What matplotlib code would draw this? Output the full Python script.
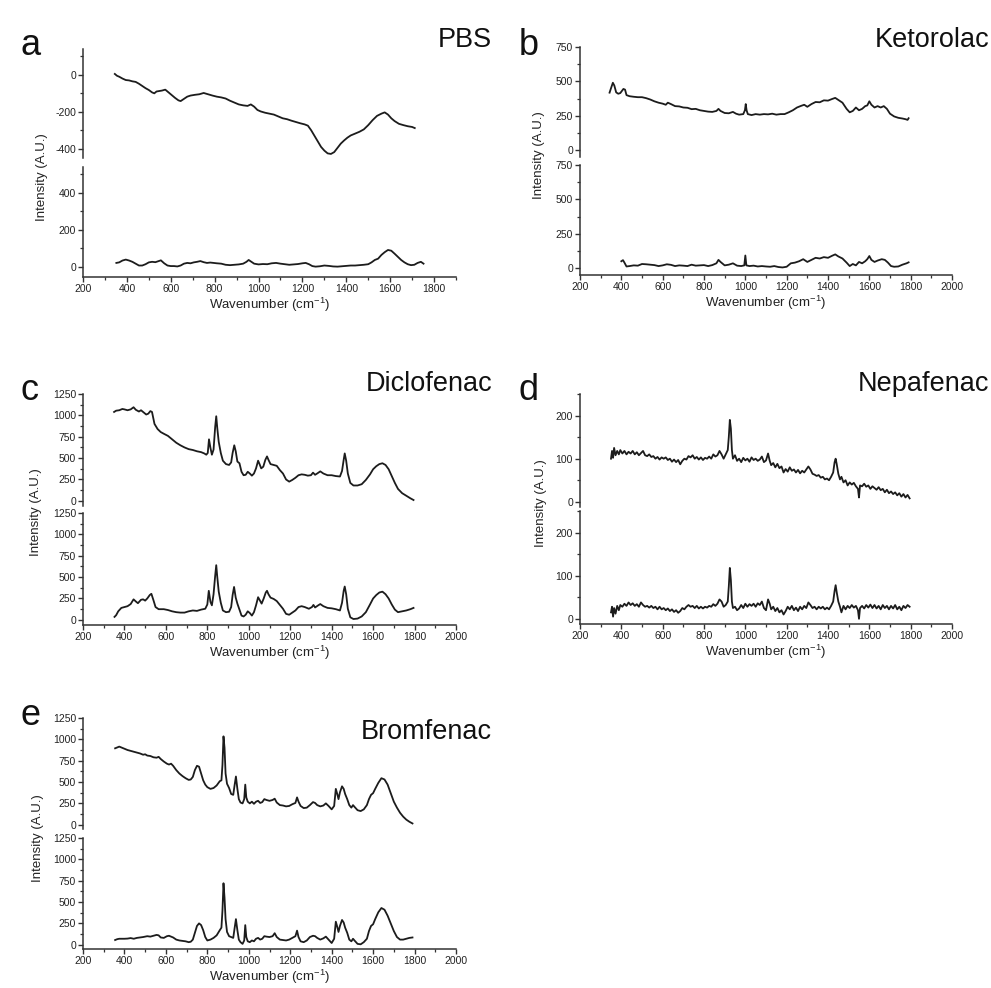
import matplotlib
matplotlib.use("Agg")
import matplotlib.pyplot as plt
from matplotlib.ticker import MultipleLocator

plt.rcParams['font.family'] = ['Liberation Sans', 'DejaVu Sans']
plt.rcParams['mathtext.default'] = 'regular'
plt.rcParams['axes.unicode_minus'] = False

# ---------------- data ----------------
pbs_top_x = [345, 355, 365, 380, 395, 410, 425, 440, 455, 470, 485, 500, 515, 525, 535, 545, 560, 575, 590, 605, 620, 635, 645, 660, 675, 690, 710, 730, 750, 770, 790, 810, 830, 850, 870, 890, 910, 930, 950, 965, 980, 995, 1010, 1030, 1050, 1070, 1090, 1110, 1130, 1150, 1170, 1190, 1210, 1225, 1240, 1255, 1270, 1285, 1300, 1315, 1330, 1345, 1360, 1375, 1390, 1405, 1420, 1440, 1460, 1480, 1500, 1520, 1540, 1560, 1575, 1590, 1605, 1620, 1640, 1660, 1680, 1700, 1712]
pbs_top_y = [5, -5, -10, -20, -28, -30, -35, -38, -48, -60, -72, -82, -95, -100, -90, -88, -85, -80, -95, -110, -125, -138, -142, -130, -118, -112, -108, -105, -98, -105, -112, -118, -122, -128, -140, -150, -160, -165, -168, -160, -172, -190, -198, -205, -210, -215, -225, -235, -240, -248, -255, -262, -268, -275, -300, -330, -360, -390, -410, -425, -428, -418, -395, -372, -355, -340, -328, -318, -308, -295, -272, -245, -222, -210, -203, -215, -235, -250, -265, -272, -278, -282, -288]
pbs_bot_x = [352, 365, 380, 395, 410, 425, 440, 455, 470, 485, 500, 515, 530, 545, 555, 570, 585, 600, 615, 630, 645, 660, 675, 690, 705, 720, 735, 750, 765, 780, 795, 810, 830, 850, 870, 890, 910, 930, 945, 955, 965, 980, 1000, 1020, 1040, 1060, 1080, 1100, 1120, 1140, 1160, 1180, 1200, 1215, 1230, 1245, 1260, 1280, 1300, 1320, 1340, 1360, 1380, 1400, 1420, 1440, 1460, 1480, 1500, 1515, 1530, 1545, 1560, 1575, 1590, 1605, 1620, 1635, 1650, 1665, 1680, 1695, 1710, 1725, 1740, 1752]
pbs_bot_y = [22, 25, 35, 40, 35, 28, 18, 8, 8, 15, 25, 28, 26, 32, 36, 20, 8, 5, 5, 3, 8, 18, 22, 20, 25, 28, 32, 26, 22, 24, 22, 20, 18, 12, 10, 12, 14, 18, 28, 38, 30, 18, 14, 16, 15, 20, 22, 18, 15, 12, 14, 16, 20, 22, 15, 5, 2, 4, 8, 6, 3, 2, 4, 6, 8, 8, 10, 12, 15, 25, 38, 45, 65, 80, 92, 88, 72, 55, 38, 25, 15, 10, 12, 22, 28, 18]

ket_top_x = [343, 350, 359, 366, 375, 385, 395, 410, 418, 425, 440, 460, 480, 500, 520, 540, 560, 580, 600, 615, 625, 640, 660, 680, 700, 720, 740, 760, 780, 800, 820, 840, 860, 870, 880, 900, 920, 940, 955, 970, 990, 998, 1002, 1006, 1012, 1030, 1050, 1070, 1090, 1110, 1130, 1150, 1170, 1190, 1210, 1230, 1250, 1270, 1285, 1300, 1320, 1340, 1360, 1380, 1400, 1420, 1435, 1450, 1470, 1490, 1505, 1520, 1535, 1550, 1565, 1580, 1590, 1600, 1610, 1625, 1640, 1655, 1670, 1685, 1700, 1720, 1740, 1760, 1775, 1785, 1790]
ket_top_y = [418, 450, 490, 470, 420, 410, 415, 445, 440, 400, 392, 388, 385, 385, 378, 368, 355, 345, 338, 330, 345, 335, 320, 318, 310, 308, 298, 300, 290, 285, 280, 278, 285, 300, 285, 270, 268, 278, 265, 258, 262, 290, 335, 290, 262, 255, 262, 258, 262, 260, 265, 258, 262, 262, 275, 290, 310, 322, 330, 315, 335, 350, 348, 362, 360, 372, 380, 365, 345, 300, 275, 285, 310, 290, 300, 320, 325, 355, 330, 310, 320, 310, 320, 300, 265, 245, 235, 230, 225, 220, 232]
ket_bot_x = [400, 408, 415, 425, 440, 460, 480, 500, 520, 540, 560, 580, 600, 620, 640, 660, 680, 700, 720, 740, 760, 780, 800, 820, 840, 860, 870, 880, 900, 920, 940, 960, 980, 995, 1000, 1005, 1020, 1040, 1060, 1080, 1100, 1120, 1140, 1160, 1180, 1200, 1220, 1240, 1260, 1280, 1300, 1320, 1340, 1360, 1380, 1400, 1420, 1435, 1450, 1470, 1490, 1505, 1520, 1535, 1550, 1565, 1580, 1590, 1600, 1610, 1625, 1640, 1660, 1675, 1690, 1705, 1720, 1740, 1760, 1780, 1790]
ket_bot_y = [50, 58, 40, 12, 15, 20, 18, 30, 28, 25, 22, 15, 20, 28, 24, 15, 20, 18, 15, 25, 18, 20, 22, 15, 22, 35, 60, 45, 20, 25, 35, 18, 15, 20, 92, 20, 15, 18, 12, 15, 12, 10, 15, 8, 5, 10, 35, 40, 50, 65, 45, 60, 75, 70, 80, 75, 90, 100, 85, 70, 40, 15, 30, 20, 45, 35, 50, 65, 88, 60, 45, 55, 65, 60, 40, 15, 10, 12, 25, 35, 42]

dic_top_x = [350, 360, 375, 390, 400, 415, 430, 444, 455, 470, 480, 490, 505, 515, 525, 533, 545, 560, 575, 590, 610, 630, 650, 670, 690, 710, 730, 750, 770, 785, 795, 802, 808, 815, 822, 830, 838, 843, 848, 855, 865, 875, 890, 905, 915, 922, 930, 937, 945, 955, 965, 975, 985, 995, 1005, 1015, 1025, 1035, 1045, 1052, 1060, 1070, 1080, 1088, 1095, 1105, 1120, 1135, 1150, 1165, 1180, 1195, 1210, 1225, 1240, 1255, 1270, 1285, 1300, 1310, 1320, 1330, 1345, 1360, 1380, 1400, 1420, 1440, 1450, 1458, 1463, 1470, 1478, 1490, 1505, 1525, 1545, 1565, 1585, 1600, 1615, 1630, 1645, 1660, 1675, 1690, 1705, 1720, 1740, 1760, 1780, 1795]
dic_top_y = [1040, 1055, 1060, 1075, 1070, 1060, 1070, 1095, 1065, 1045, 1060, 1040, 1010, 1020, 1050, 1040, 900, 840, 805, 785, 760, 720, 680, 650, 625, 605, 595, 580, 570, 555, 540, 560, 720, 620, 540, 600, 870, 990, 850, 690, 560, 470, 430, 420, 450, 560, 650, 580, 460, 440, 340, 300, 305, 340, 320, 295, 320, 380, 470, 430, 380, 400, 480, 520, 480, 430, 420, 410, 360, 320, 250, 225, 245, 270, 300, 310, 305, 295, 300, 330, 305, 320, 345, 320, 300, 300, 290, 285, 350, 480, 555, 470, 320, 210, 180, 180, 195, 245, 310, 370, 405, 430, 440, 420, 370, 290, 210, 140, 90, 60, 30, 10]
dic_bot_x = [352, 360, 370, 385, 400, 415, 430, 444, 455, 465, 480, 490, 500, 510, 522, 530, 540, 550, 565, 590, 610, 630, 650, 670, 690, 710, 730, 750, 770, 790, 800, 807, 815, 822, 830, 838, 843, 848, 855, 865, 875, 890, 905, 915, 922, 929, 937, 945, 955, 965, 975, 985, 995, 1005, 1015, 1025, 1035, 1045, 1053, 1062, 1072, 1082, 1088, 1095, 1105, 1120, 1135, 1150, 1165, 1180, 1195, 1210, 1225, 1240, 1255, 1270, 1290, 1305, 1312, 1320, 1335, 1345, 1360, 1380, 1400, 1420, 1440, 1450, 1458, 1463, 1470, 1478, 1490, 1505, 1525, 1545, 1565, 1585, 1600, 1615, 1630, 1645, 1660, 1675, 1690, 1705, 1720, 1740, 1760, 1780, 1795]
dic_bot_y = [35, 55, 100, 140, 150, 160, 185, 240, 215, 195, 235, 240, 225, 250, 290, 305, 230, 150, 125, 125, 115, 100, 90, 85, 85, 100, 110, 105, 120, 130, 180, 340, 210, 170, 300, 520, 640, 500, 330, 200, 110, 90, 95, 150, 290, 385, 260, 190, 120, 50, 40, 60, 100, 80, 50, 90, 170, 265, 230, 190, 250, 320, 340, 300, 260, 245, 220, 175, 130, 70, 60, 85, 110, 150, 160, 150, 130, 150, 175, 145, 170, 185, 160, 140, 135, 125, 110, 200, 340, 390, 300, 130, 30, 10, 15, 40, 90, 180, 250, 290, 320, 330, 300, 250, 180, 120, 90, 100, 110, 125, 140]

nep_top_x = [350, 355, 360, 365, 372, 380, 388, 395, 405, 415, 425, 435, 445, 455, 465, 475, 485, 495, 505, 515, 525, 535, 545, 555, 565, 575, 585, 595, 605, 615, 625, 635, 645, 655, 665, 675, 685, 695, 705, 715, 725, 735, 745, 755, 765, 775, 785, 795, 805, 815, 825, 835, 845, 855, 865, 875, 885, 895, 905, 915, 920, 925, 930, 935, 940, 950, 960, 970, 980, 990, 1000, 1010, 1020, 1030, 1040, 1050, 1060, 1070, 1080, 1090, 1100, 1110, 1118, 1125, 1135, 1145, 1155, 1165, 1175, 1185, 1195, 1205, 1215, 1225, 1235, 1245, 1255, 1265, 1275, 1285, 1295, 1305, 1315, 1325, 1335, 1345, 1355, 1365, 1375, 1385, 1395, 1405, 1415, 1425, 1432, 1437, 1442, 1450, 1458, 1465, 1475, 1485, 1495, 1505, 1515, 1525, 1535, 1545, 1550, 1555, 1565, 1575, 1585, 1595, 1605, 1615, 1625, 1635, 1645, 1655, 1665, 1675, 1685, 1695, 1705, 1715, 1725, 1735, 1745, 1755, 1765, 1775, 1785, 1795]
nep_top_y = [100, 118, 102, 125, 108, 118, 110, 120, 112, 118, 110, 116, 112, 118, 110, 115, 108, 113, 118, 108, 106, 110, 104, 106, 100, 104, 98, 103, 100, 103, 97, 100, 93, 98, 92, 97, 87, 95, 100, 98, 106, 103, 108, 100, 104, 98, 103, 97, 102, 100, 105, 100, 110, 105, 108, 118, 110, 100, 110, 120, 150, 190, 170, 120, 100, 108, 95, 100, 92, 102, 96, 100, 93, 103, 97, 100, 95, 98, 105, 92, 96, 112, 95, 85, 90, 80, 88, 78, 82, 68, 76, 70, 80, 72, 75, 68, 74, 66, 72, 68, 75, 82, 75, 65, 63, 60, 62, 56, 58, 52, 54, 50, 58, 68, 92, 100, 88, 65, 52, 58, 45, 50, 38, 45, 40, 44, 36, 30, 10, 38, 36, 42, 35, 38, 30, 36, 32, 28, 34, 27, 30, 22, 28, 20, 24, 18, 22, 15, 20, 12, 18, 10, 16, 8]
nep_bot_x = nep_top_x
nep_bot_y = [15, 28, 5, 25, 12, 30, 20, 32, 28, 35, 30, 38, 32, 36, 30, 34, 28, 38, 32, 28, 30, 26, 30, 25, 28, 22, 28, 22, 25, 20, 24, 18, 22, 16, 20, 14, 18, 25, 22, 28, 32, 28, 30, 25, 30, 24, 28, 24, 28, 26, 30, 28, 34, 30, 35, 45, 40, 28, 32, 40, 75, 118, 90, 40, 25, 28, 20, 24, 32, 25, 35, 28, 34, 30, 35, 28, 36, 32, 40, 25, 20, 45, 35, 22, 28, 18, 25, 15, 20, 10, 18, 28, 22, 30, 20, 26, 18, 28, 22, 30, 25, 38, 32, 25, 28, 22, 28, 24, 28, 22, 26, 22, 30, 40, 65, 78, 62, 40, 28, 15, 30, 22, 30, 25, 32, 26, 30, 20, 0, 25, 30, 24, 32, 26, 33, 25, 32, 24, 30, 22, 32, 25, 30, 22, 30, 24, 32, 22, 28, 20, 30, 25, 32, 28]

bro_top_x = [355, 365, 375, 385, 400, 415, 430, 445, 460, 475, 490, 500, 510, 525, 540, 555, 565, 575, 590, 605, 615, 625, 635, 650, 665, 680, 695, 710, 720, 730, 740, 750, 760, 770, 780, 790, 800, 815, 830, 845, 860, 868, 873, 878, 883, 888, 895, 905, 915, 925, 932, 938, 945, 952, 960, 970, 978, 983, 988, 995, 1005, 1015, 1025, 1035, 1045, 1055, 1065, 1075, 1085, 1100, 1115, 1125, 1135, 1150, 1165, 1180, 1195, 1210, 1225, 1233, 1240, 1250, 1265, 1280, 1295, 1310, 1320, 1330, 1345, 1360, 1372, 1385, 1400, 1412, 1420, 1427, 1433, 1440, 1450, 1458, 1465, 1475, 1485, 1495, 1503, 1510, 1525, 1540, 1555, 1570, 1580, 1590, 1600, 1610, 1625, 1640, 1655, 1670, 1685, 1700, 1715, 1730, 1745, 1760, 1775, 1790]
bro_top_y = [895, 905, 915, 905, 890, 875, 865, 855, 845, 835, 820, 825, 810, 805, 790, 785, 795, 770, 740, 715, 705, 715, 690, 640, 600, 570, 545, 525, 530, 560, 640, 690, 680, 600, 520, 470, 440, 420, 430, 460, 510, 520, 700, 1035, 900, 600, 480, 430, 360, 350, 470, 565, 420, 300, 260, 250, 300, 470, 320, 270, 250, 270, 245, 270, 280, 255, 265, 300, 290, 280, 290, 305, 260, 230, 225, 215, 220, 240, 255, 320, 270, 220, 195, 200, 230, 265, 255, 230, 215, 225, 250, 220, 180, 220, 420, 360, 300, 380, 450, 420, 360, 300, 230, 200, 230, 210, 170, 160, 180, 230, 300, 350, 370, 420, 490, 545, 530, 470, 370, 270, 200, 140, 95, 60, 35, 15]
bro_bot_x = bro_top_x
bro_bot_y = [55, 65, 70, 70, 70, 72, 78, 70, 80, 85, 90, 95, 100, 95, 105, 115, 110, 85, 80, 100, 105, 95, 85, 60, 50, 45, 40, 30, 35, 60, 140, 220, 250, 230, 170, 90, 50, 60, 80, 110, 170, 200, 400, 720, 550, 300, 150, 100, 90, 80, 200, 300, 170, 60, 30, 10, 50, 230, 90, 40, 30, 50, 40, 70, 80, 60, 70, 100, 95, 90, 100, 135, 90, 60, 55, 50, 60, 80, 100, 165, 90, 40, 30, 50, 90, 105, 100, 80, 60, 75, 95, 60, 20, 70, 270, 210, 150, 220, 290, 260, 200, 140, 60, 40, 70, 50, 10, 5, 30, 70, 160, 220, 240, 300, 380, 430, 410, 340, 250, 160, 90, 60, 60, 70, 80, 85]

labels = ['a', 'b', 'c', 'd', 'e']
names = ['PBS', 'Ketorolac', 'Diclofenac', 'Nepafenac', 'Bromfenac']

# ---------------- layout (pixels) ----------------
W, H = 991, 988
fig = plt.figure(figsize=(W / 100, H / 100), dpi=100)
fig.patch.set_facecolor('white')

LC = '#1c1c1c'
AC = '#333333'

panels = [
    dict(l=83, r=456, t1=49, b1=158, t2=167, b2=277, xlim=(200, 1900),
         yl1=(-450, 140), yl2=(-54, 540), maj=200, mnr=100,
         top=(pbs_top_x, pbs_top_y), bot=(pbs_bot_x, pbs_bot_y),
         lab=(20, 55), name=(492, 47), ylab=(42, 177)),
    dict(l=580, r=952, t1=47, b1=157, t2=165, b2=275, xlim=(200, 2000),
         yl1=(-50, 750), yl2=(-50, 750), maj=250, mnr=125,
         top=(ket_top_x, ket_top_y), bot=(ket_bot_x, ket_bot_y),
         lab=(519, 55), name=(989, 47), ylab=(539, 155)),
    dict(l=83, r=456, t1=394, b1=506, t2=513, b2=625, xlim=(200, 2000),
         yl1=(-60, 1250), yl2=(-60, 1250), maj=250, mnr=125,
         top=(dic_top_x, dic_top_y), bot=(dic_bot_x, dic_bot_y),
         lab=(20, 400), name=(492, 391), ylab=(36, 512)),
    dict(l=580, r=952, t1=394, b1=507, t2=511, b2=624, xlim=(200, 2000),
         yl1=(-12, 250), yl2=(-12, 250), maj=100, mnr=50,
         top=(nep_top_x, nep_top_y), bot=(nep_bot_x, nep_bot_y),
         lab=(519, 400), name=(989, 391), ylab=(541, 503)),
    dict(l=83, r=456, t1=718, b1=829, t2=838, b2=949, xlim=(200, 2000),
         yl1=(-50, 1250), yl2=(-50, 1250), maj=250, mnr=125,
         top=(bro_top_x, bro_top_y), bot=(bro_bot_x, bro_bot_y),
         lab=(20, 725), name=(492, 739), ylab=(38, 838)),
]

def rect(l, r, t, b):
    return [l / W, 1 - b / H, (r - l) / W, (b - t) / H]

def style(ax, p, ylim, show_x):
    ax.set_xlim(*p['xlim'])
    ax.set_ylim(*ylim)
    ax.patch.set_alpha(0)
    for s in ['top', 'right']:
        ax.spines[s].set_visible(False)
    ax.spines['left'].set_color(AC)
    ax.spines['left'].set_linewidth(1.1)
    ax.spines['bottom'].set_color(AC)
    ax.spines['bottom'].set_linewidth(1.1)
    ax.yaxis.set_major_locator(MultipleLocator(p['maj']))
    ax.yaxis.set_minor_locator(MultipleLocator(p['mnr']))
    ax.xaxis.set_major_locator(MultipleLocator(200))
    ax.xaxis.set_minor_locator(MultipleLocator(100))
    ax.tick_params(which='major', direction='out', length=3.5, width=1.0,
                   color=AC, labelsize=7.5, labelcolor='#222222', pad=1.5)
    ax.tick_params(which='minor', direction='out', length=2, width=0.9, color=AC)
    if not show_x:
        ax.spines['bottom'].set_visible(False)
        ax.tick_params(axis='x', which='both', bottom=False, labelbottom=False)

for i, p in enumerate(panels):
    ax1 = fig.add_axes(rect(p['l'], p['r'], p['t1'], p['b1']))
    ax2 = fig.add_axes(rect(p['l'], p['r'], p['t2'], p['b2']))
    ax1.plot(p['top'][0], p['top'][1], color=LC, lw=1.3)
    ax2.plot(p['bot'][0], p['bot'][1], color=LC, lw=1.3)
    style(ax1, p, p['yl1'], False)
    style(ax2, p, p['yl2'], True)
    cx = (p['l'] + p['r']) / 2
    fig.text(cx / W, 1 - (p['b2'] + 28) / H, 'Wavenumber (cm$^{-1}$)',
             ha='center', va='center', fontsize=9.5, color='#222222')
    fig.text(p['ylab'][0] / W, 1 - p['ylab'][1] / H, 'Intensity (A.U.)',
             rotation=90, ha='center', va='center', fontsize=9.5, color='#222222')
    fig.text(p['lab'][0] / W, 1 - p['lab'][1] / H, labels[i],
             ha='left', va='baseline', fontsize=26, color='#111111')
    fig.text(p['name'][0] / W, 1 - p['name'][1] / H, names[i],
             ha='right', va='baseline', fontsize=19.5, color='#111111')

fig.savefig('out.png', dpi=100, facecolor='white')
